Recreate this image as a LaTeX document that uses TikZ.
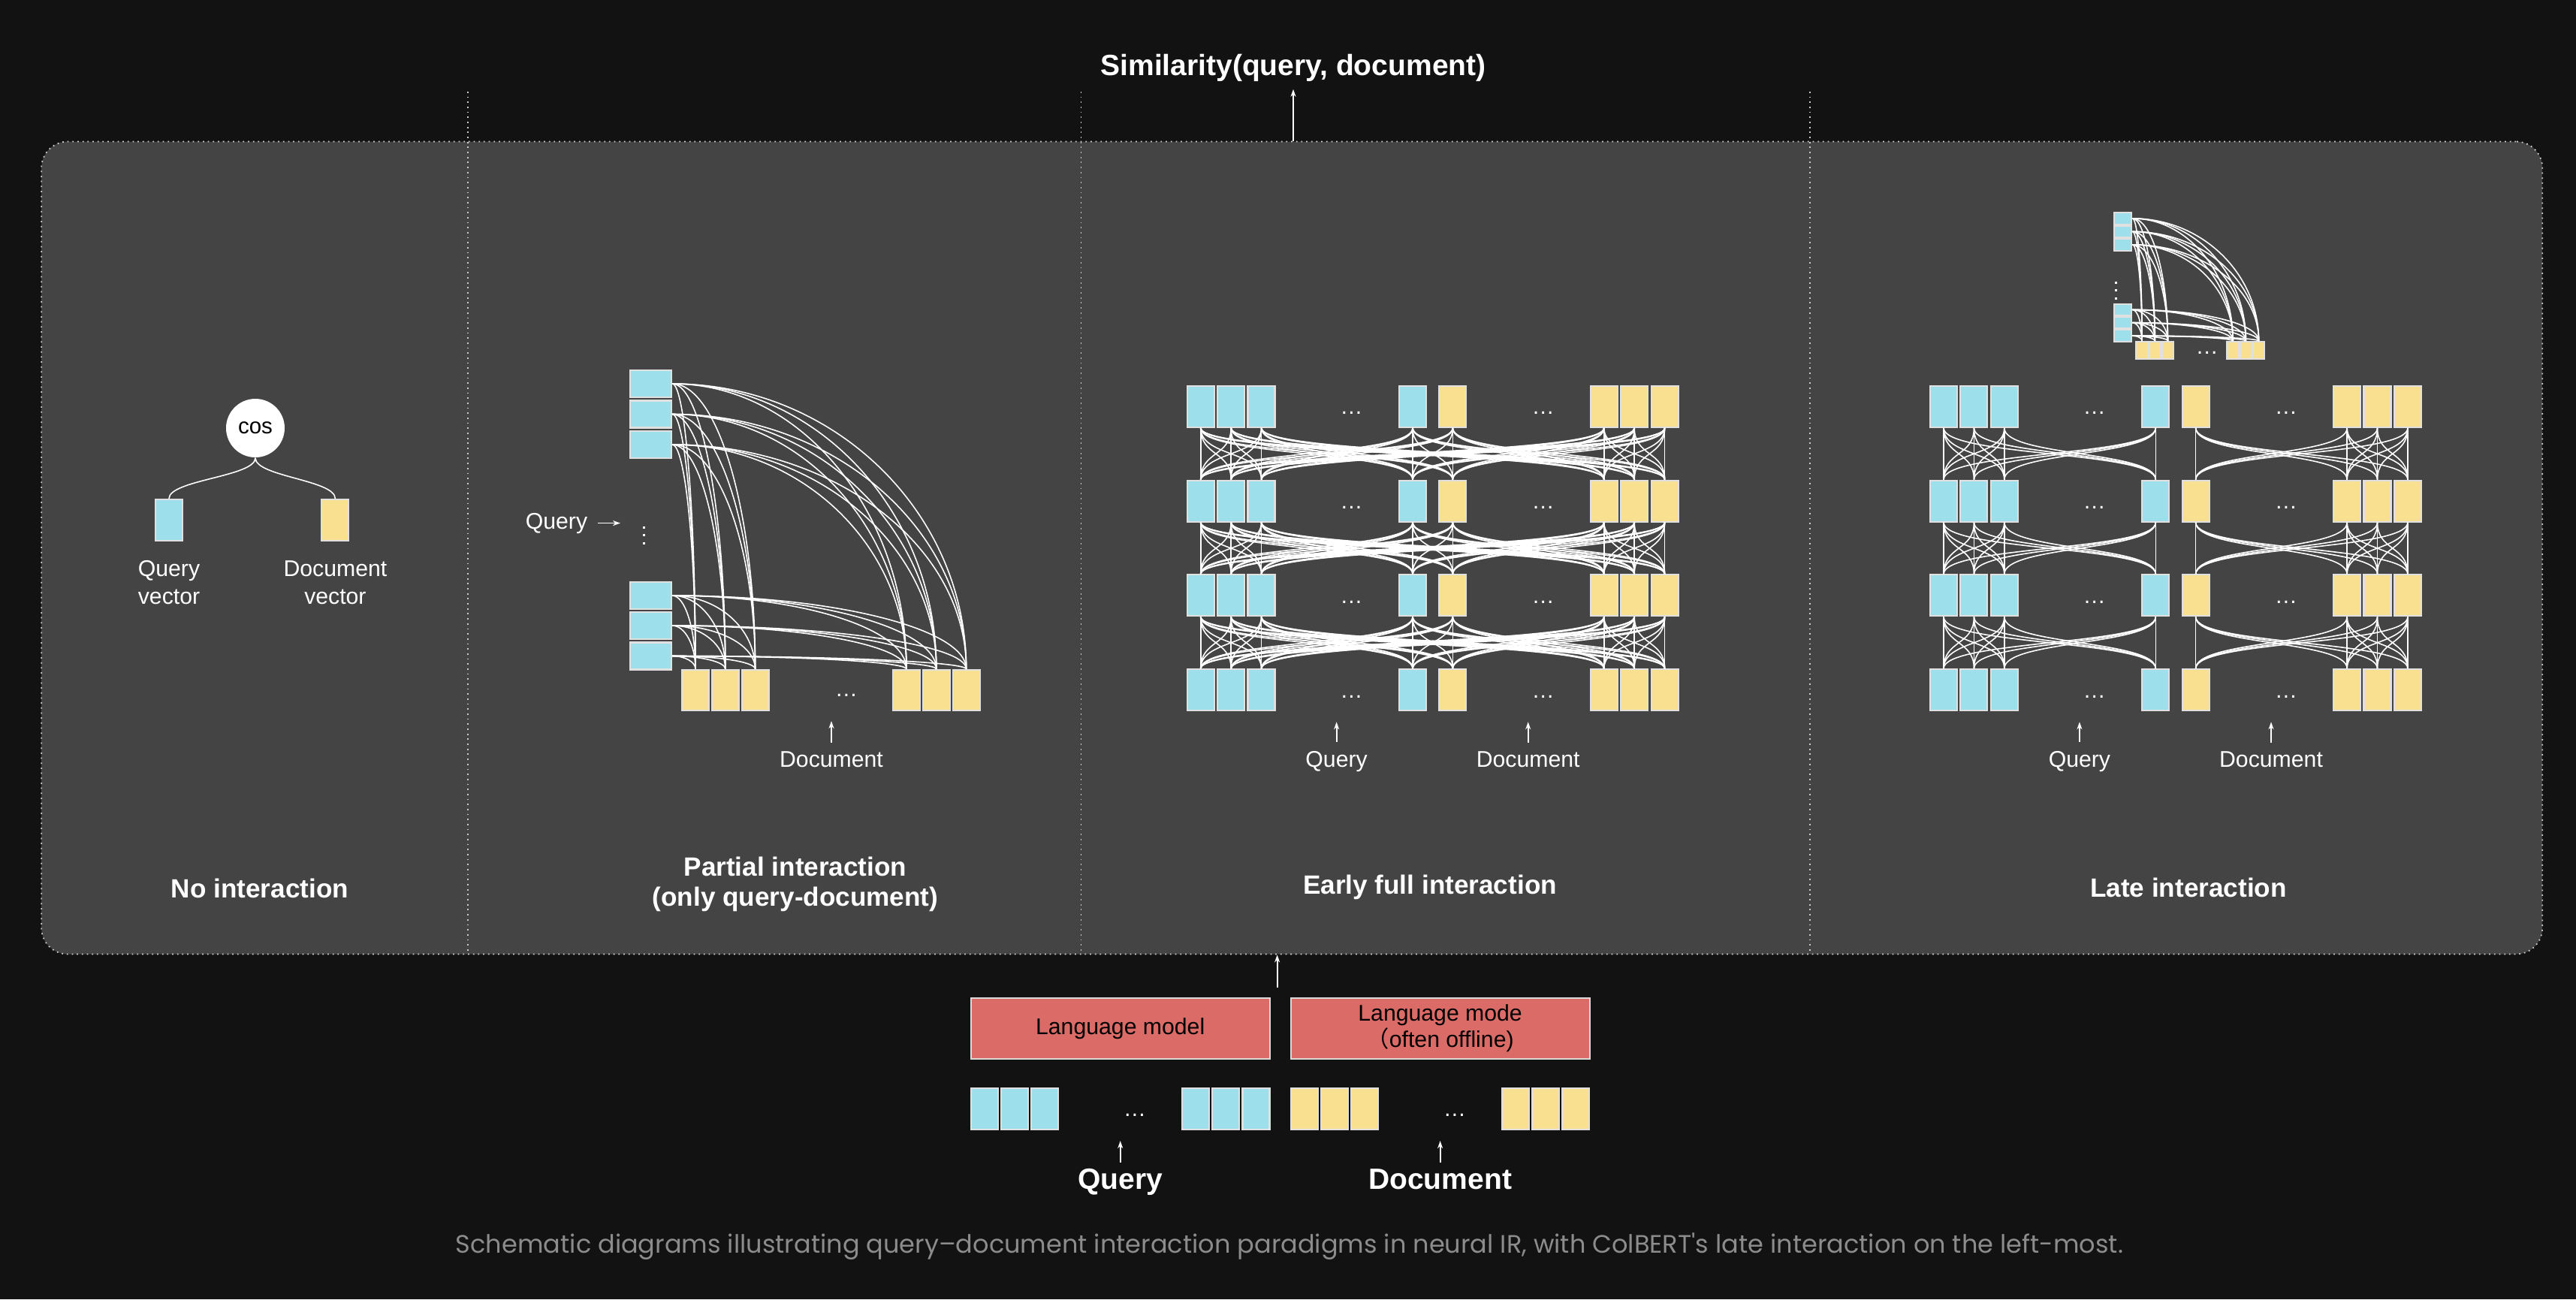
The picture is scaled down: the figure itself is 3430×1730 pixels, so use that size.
\documentclass[tikz,border=0pt]{standalone}
\usepackage{fontspec}
\setmainfont{Liberation Sans}
\newfontfamily\capfont{Poppins}
\newfontfamily\cjkfont{Noto Sans CJK SC}
\usetikzlibrary{positioning,calc,arrows.meta}

\definecolor{bgdark}{RGB}{18,18,18}
\definecolor{panelgray}{RGB}{68,68,68}
\definecolor{qblue}{RGB}{157,224,236}
\definecolor{dyellow}{RGB}{248,224,144}
\definecolor{lmred}{RGB}{219,107,102}
\definecolor{capgray}{RGB}{140,140,140}

\tikzset{
  tok/.style={draw=white!88!black, line width=0.6pt, minimum width=3.6mm, minimum height=5.5mm, inner sep=0pt},
  qtok/.style={tok, fill=qblue},
  dtok/.style={tok, fill=dyellow},
  link/.style={white, line width=0.45pt},
  arrowline/.style={->, white, line width=0.5pt},
  lbl/.style={text=white, inner sep=0pt, font=\fontsize{8.6}{10.5}\selectfont},
  heading/.style={text=white, inner sep=0pt, align=center, font=\bfseries\fontsize{10}{11.5}\selectfont},
  bighead/.style={text=white, inner sep=0pt, font=\bfseries\fontsize{11.1}{13}\selectfont},
  divider/.style={white!80!black, line width=0.5pt, dash pattern=on 0.5pt off 1.4pt},
  lmbox/.style={fill=lmred, draw=white!85!black, line width=0.6pt, minimum width=39.8mm, minimum height=8.1mm, inner sep=0pt, align=center, font=\fontsize{8.6}{10}\selectfont},
}

\begin{document}
\begin{tikzpicture}[%
       x=0.1mm, y=-0.1mm,
       >={Stealth[length=1mm,width=0.7mm]}
     ]
     \fill[bgdark] (0,0) rectangle (3430,1730);
     \useasboundingbox (0,0) rectangle (3430,1730);

     % outer panel and dividers
     \node[fill=panelgray, draw=white!80!black, line width=0.5pt, dash pattern=on 0.5pt off 1.4pt,
           rounded corners=3.5mm, minimum width=333mm, minimum height=108.2mm, inner sep=0pt] (panel) at (1720.2,729.5) {};
     \foreach \x in {623,1439.4,2409.7}
       \draw[divider] (\x,122) -- (\x,1270.5);

     \node[bighead, anchor=base] (sim) at (1722,100) {Similarity(query, document)};
     \draw[arrowline] (panel.north -| sim.south) -- ([yshift=-1mm]sim.south);

     % no interaction
     \node[circle, fill=white, minimum size=7.8mm, inner sep=0pt, font=\fontsize{8.4}{10}\selectfont] (cos) at (340,570) {cos};
     \node[qtok] (qvec) at (225,692.5) {};
     \node[dtok] (dvec) at (446.4,692.5) {};
     \draw[link] (cos.south) .. controls +(0,25) and +(0,-25) .. (qvec.north);
     \draw[link] (cos.south) .. controls +(0,25) and +(0,-25) .. (dvec.north);
     \node[lbl, align=center, below=2.5mm of qvec] (qveclab) {Query\\vector};
     \node[lbl, align=center, below=2.5mm of dvec] (dveclab) {Document\\vector};
     \node[heading, anchor=base] (nohead) at (346,1195) {No interaction};

     % partial interaction (big one, and the small one in late interaction)
     \foreach \pn/\ox/\oy/\s/\vx/\vy in {p/866.5/511/1/857/712.5, m/2826.5/290.9/0.431/2817/386.5}{
       \begin{scope}[shift={(\ox,\oy)}, scale=\s]
         \foreach \i/\y in {1/0, 2/40.5, 3/81, 4/282, 5/322, 6/362.5}
           \node[qtok, minimum width=\s*5.5mm, minimum height=\s*3.6mm] (\pn q\i) at (0,\y) {};
         \foreach \j/\x in {1/59.5, 2/99.3, 3/139.1, 4/340.5, 5/380.3, 6/420.1}
           \node[dtok, minimum width=\s*3.6mm, minimum height=\s*5.4mm] (\pn d\j) at (\x,408) {};
         \node[lbl] (\pn dots) at (260.5,415) {\ldots};
         \foreach \i in {1,...,6}
           \foreach \j in {1,...,6}{
             \coordinate (k) at (\pn q\i.east -| \pn d\j.north);
             \draw[link] (\pn q\i.east) .. controls ($(\pn q\i.east)!0.55!(k)$) and ($(\pn d\j.north)!0.55!(k)$) .. (\pn d\j.north);
           }
       \end{scope}
       \coordinate (\pn vdots) at (\vx,\vy);
       \foreach \k in {-10.5,0,10.5}
         \fill[white] ($(\pn vdots)+(-1.5,\k-1.5)$) rectangle +(3,3);
     }
     \node[lbl, anchor=base] (pqlab) at (741,704) {Query};
     \draw[arrowline, shorten <=1.3mm, shorten >=3.1mm] (pqlab.east) -- (pqlab.east -| pvdots);
     \node[lbl, anchor=base] (pdlab) at (1107,1021) {Document};
     \draw[arrowline, shorten <=1.1mm, shorten >=1.3mm] (pdlab.north) -- (pdlab.north |- pd1.south);
     \node[heading] (parthead) at (1059,1177.5) {Partial interaction\\(only query-document)};

     % early full interaction and late interaction
     \foreach \pn/\dx in {e/0, l/989.3}{
       \foreach \col/\cx/\kind in {1/0/qtok, 2/40.4/qtok, 3/80.8/qtok, 4/282.3/qtok,
                                  5/335.6/dtok, 6/537.1/dtok, 7/577.5/dtok, 8/617.9/dtok}
         \foreach \row in {1,...,4}
           \node[\kind] (\pn\row-\col) at ({1598.7+\dx+\cx},{415.5+125.8*\row}) {};
       \foreach \row in {1,...,4}{
         \node[lbl] (\pn qd\row) at ({1799.5+\dx},{424.2+125.8*\row}) {\ldots};
         \node[lbl] (\pn dd\row) at ({2054.6+\dx},{424.2+125.8*\row}) {\ldots};
       }
       \node[lbl, anchor=base] (\pn qlab) at ({1779.6+\dx},1021) {Query};
       \node[lbl, anchor=base] (\pn dlab) at ({2034.7+\dx},1021) {Document};
       \draw[arrowline, shorten <=1.1mm, shorten >=1.4mm] (\pn qlab.north) -- (\pn qlab.north |- \pn4-1.south);
       \draw[arrowline, shorten <=1.1mm, shorten >=1.4mm] (\pn dlab.north) -- (\pn dlab.north |- \pn4-1.south);
     }
     \foreach \row [evaluate=\row as \nxt using int(\row+1)] in {1,2,3}
       \foreach \a in {1,...,8}
         \foreach \b in {1,...,8}
           \draw[link] (e\row-\a.south) .. controls +(0,38) and +(0,-38) .. (e\nxt-\b.north);
     \foreach \row [evaluate=\row as \nxt using int(\row+1)] in {1,2,3}
       \foreach \lo/\hi in {1/4,5/8}
         \foreach \a in {\lo,...,\hi}
           \foreach \b in {\lo,...,\hi}
             \draw[link] (l\row-\a.south) .. controls +(0,38) and +(0,-38) .. (l\nxt-\b.north);
     \node[heading, anchor=base] (earlyhead) at (1904,1190) {Early full interaction};
     \node[heading, anchor=base] (latehead) at (2914,1194) {Late interaction};

     % language models and input tokens
     \node[lmbox] (lmq) at (1491.7,1369.4) {Language model};
     \node[lmbox] (lmd) at (1917.6,1369.4) {Language mode\\{\cjkfont （}often offline)};
     \coordinate (lmout) at (1700.6,1315);
     \draw[arrowline] (lmout) -- (lmout |- panel.south);
     \foreach \i/\x in {1/1310.9, 2/1351.1, 3/1391.2, 4/1592.2, 5/1632.4, 6/1672.5}
       \node[qtok] (bq\i) at (\x,1476.5) {};
     \foreach \j/\x in {1/1736.8, 2/1777, 3/1817.2, 4/2018.3, 5/2058.4, 6/2098.4}
       \node[dtok] (bd\j) at (\x,1476.5) {};
     \node[lbl] (bqdots) at (1511,1485) {\ldots};
     \node[lbl] (bddots) at (1937,1485) {\ldots};
     \node[bighead, anchor=base] (bqlab) at (1491.7,1583) {Query};
     \node[bighead, anchor=base] (bdlab) at (1917.6,1583) {Document};
     \draw[arrowline, shorten <=0.7mm, shorten >=1.4mm] (bqlab.north) -- (bqlab.north |- bq1.south);
     \draw[arrowline, shorten <=0.7mm, shorten >=1.4mm] (bdlab.north) -- (bdlab.north |- bd1.south);

     \node[text=capgray, inner sep=0pt, anchor=base, font=\capfont\fontsize{9.55}{11}\selectfont] (caption) at (1717,1668)
       {Schematic diagrams illustrating query–document interaction paradigms in neural IR, with ColBERT's late interaction on the left-most.};
\end{tikzpicture}
\end{document}
